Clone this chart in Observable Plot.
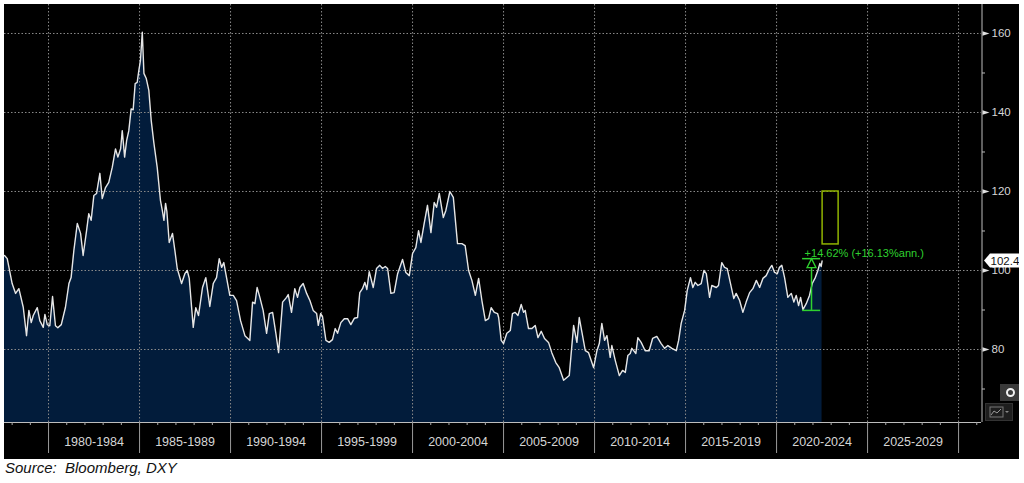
<!DOCTYPE html>
<html>
<head>
<meta charset="utf-8">
<script src="https://cdn.jsdelivr.net/npm/d3@7"></script>
<script src="https://cdn.jsdelivr.net/npm/@observablehq/plot@0.6"></script>
<style>
html, body { margin: 0; padding: 0; background: #fff; width: 1024px; height: 483px; overflow: hidden; }
#wrap { position: absolute; left: 4px; top: 4px; width: 1015px; height: 455px; background: #000; overflow: hidden; }
#caption { position: absolute; left: 5px; top: 459px; font: italic 15px "Liberation Sans", Arial, sans-serif; color: #111; white-space: pre; }
#btn1 { position: absolute; left: 1000px; top: 384px; width: 19px; height: 17px; background: #3a3a3a; }
#btn1 div { position: absolute; left: 6px; top: 4px; width: 5px; height: 5px; border: 2px solid #f2f2f2; border-radius: 50%; }
#btn2 { position: absolute; left: 985px; top: 403px; width: 28px; height: 18px; background: #1e1e1e; border: 1px solid #333; box-sizing: border-box; }
</style>
</head>
<body>
<div id="wrap"></div>
<div id="btn1"><div></div></div>
<div id="btn2"><svg width="26" height="16"><rect x="4" y="3" width="13" height="10" fill="none" stroke="#777" stroke-width="1"/><polyline points="5,11 8,7 11,9 15,5" fill="none" stroke="#999" stroke-width="1"/><path d="M19,7 L23,7 L21,9 Z" fill="#888"/></svg></div>
<div id="caption">Source:  Bloomberg, DXY</div>
<script>
// ---- Data ----
const years = [
  1977.58, 1977.73, 1978.00, 1978.19, 1978.37, 1978.61, 1978.79, 1978.92, 1979.05, 1979.16,
  1979.38, 1979.52, 1979.71, 1979.80, 1979.93, 1980.07, 1980.22, 1980.38, 1980.51, 1980.70,
  1980.93, 1981.12, 1981.24, 1981.39, 1981.58, 1981.76, 1981.90, 1982.09, 1982.21, 1982.34,
  1982.49, 1982.64, 1982.82, 1982.95, 1983.13, 1983.31, 1983.50, 1983.68, 1983.81, 1983.96,
  1984.05, 1984.18, 1984.29, 1984.41, 1984.54, 1984.65, 1984.76, 1984.87, 1984.96, 1985.05,
  1985.15, 1985.24, 1985.37, 1985.51, 1985.64, 1985.79, 1985.97, 1986.15, 1986.25, 1986.34,
  1986.43, 1986.50, 1986.63, 1986.81, 1986.94, 1987.07, 1987.31, 1987.49, 1987.62, 1987.73,
  1987.95, 1988.09, 1988.24, 1988.46, 1988.64, 1988.86, 1989.05, 1989.23, 1989.38, 1989.51,
  1989.63, 1989.78, 1989.96, 1990.15, 1990.33, 1990.55, 1990.79, 1991.06, 1991.21, 1991.34,
  1991.46, 1991.61, 1991.79, 1991.98, 1992.13, 1992.31, 1992.49, 1992.64, 1992.86, 1993.08,
  1993.17, 1993.35, 1993.53, 1993.68, 1993.81, 1993.99, 1994.18, 1994.36, 1994.54, 1994.73,
  1994.82, 1994.95, 1995.05, 1995.24, 1995.42, 1995.60, 1995.75, 1995.88, 1996.06, 1996.25,
  1996.43, 1996.61, 1996.80, 1996.98, 1997.10, 1997.25, 1997.38, 1997.49, 1997.62, 1997.84,
  1998.02, 1998.20, 1998.35, 1998.50, 1998.63, 1998.81, 1998.99, 1999.18, 1999.45, 1999.63,
  1999.82, 2000.00, 2000.18, 2000.33, 2000.46, 2000.64, 2000.82, 2001.01, 2001.19, 2001.32,
  2001.47, 2001.69, 2001.83, 2002.05, 2002.24, 2002.47, 2002.71, 2002.89, 2003.08, 2003.26,
  2003.45, 2003.63, 2003.81, 2004.00, 2004.18, 2004.32, 2004.49, 2004.67, 2004.73, 2004.87,
  2005.00, 2005.18, 2005.37, 2005.49, 2005.64, 2005.79, 2005.97, 2006.10, 2006.19, 2006.37,
  2006.56, 2006.74, 2006.89, 2007.07, 2007.25, 2007.47, 2007.65, 2007.87, 2008.06, 2008.30,
  2008.48, 2008.61, 2008.85, 2009.03, 2009.16, 2009.31, 2009.49, 2009.67, 2009.95, 2010.13,
  2010.26, 2010.40, 2010.55, 2010.68, 2010.86, 2010.95, 2011.14, 2011.36, 2011.54, 2011.69,
  2011.83, 2011.96, 2012.05, 2012.27, 2012.38, 2012.56, 2012.78, 2013.00, 2013.19, 2013.42,
  2013.66, 2013.85, 2014.03, 2014.25, 2014.49, 2014.62, 2014.76, 2014.95, 2015.09, 2015.27,
  2015.40, 2015.53, 2015.68, 2015.86, 2016.01, 2016.14, 2016.32, 2016.44, 2016.69, 2016.81,
  2016.99, 2017.14, 2017.29, 2017.47, 2017.65, 2017.78, 2017.97, 2018.15, 2018.33, 2018.52,
  2018.70, 2018.89, 2019.07, 2019.25, 2019.43, 2019.62, 2019.74, 2019.89, 2020.04, 2020.16,
  2020.29, 2020.44, 2020.62, 2020.81, 2020.95, 2021.08, 2021.21, 2021.32, 2021.45, 2021.63,
  2021.81, 2021.96, 2022.13, 2022.27, 2022.38, 2022.45, 2022.50
];
const values = [
  103.8, 103.0, 96.7, 94.2, 95.4, 90.7, 83.5, 89.9, 86.8, 88.6,
  90.6, 87.3, 85.6, 88.9, 86.3, 86.0, 93.4, 86.0, 85.5, 86.3,
  90.7, 96.7, 98.2, 105.0, 111.9, 109.4, 103.8, 110.1, 114.4, 112.7,
  119.0, 119.5, 124.6, 118.2, 121.0, 122.3, 126.1, 130.8, 128.7, 130.8,
  135.4, 128.7, 132.9, 135.4, 140.9, 140.7, 147.3, 147.6, 150.6, 153.2,
  160.3, 149.9, 148.6, 145.6, 138.0, 132.2, 126.1, 117.7, 115.2, 112.7,
  117.0, 115.0, 107.1, 109.4, 105.1, 100.5, 96.7, 99.2, 100.0, 98.0,
  85.6, 90.6, 88.6, 95.7, 98.2, 90.9, 96.7, 98.2, 103.0, 100.8,
  102.0, 98.2, 93.7, 93.7, 92.4, 87.3, 83.5, 82.3, 92.0, 91.6,
  95.7, 93.2, 89.9, 84.1, 89.1, 89.4, 84.1, 79.2, 92.0, 93.2,
  93.9, 89.4, 95.4, 93.2, 95.7, 96.7, 94.2, 92.4, 89.9, 89.1,
  86.1, 89.1, 88.4, 82.3, 81.8, 82.5, 85.3, 84.1, 86.8, 87.8,
  87.8, 86.3, 87.9, 88.1, 94.4, 95.4, 97.0, 95.2, 99.7, 95.7,
  100.5, 101.3, 100.5, 101.0, 100.5, 94.2, 94.4, 99.2, 102.8, 99.5,
  98.7, 104.3, 105.8, 110.1, 107.1, 111.9, 116.5, 109.6, 117.2, 116.0,
  119.5, 113.4, 115.2, 120.0, 118.5, 106.8, 106.8, 106.3, 100.0, 97.5,
  93.7, 98.0, 92.4, 87.3, 87.8, 90.6, 89.4, 89.1, 88.1, 82.3,
  81.5, 84.1, 84.8, 89.1, 89.4, 88.6, 91.4, 89.4, 89.9, 85.3,
  85.3, 86.1, 83.0, 84.6, 82.8, 81.8, 79.2, 76.7, 75.4, 72.2,
  72.9, 73.4, 86.1, 81.8, 88.1, 84.3, 79.7, 79.2, 75.4, 79.7,
  81.5, 86.6, 82.3, 83.5, 78.0, 81.0, 77.2, 73.4, 74.7, 74.2,
  78.5, 79.0, 80.3, 79.0, 83.0, 81.8, 79.7, 79.7, 82.8, 83.3,
  81.5, 80.3, 81.0, 80.3, 79.7, 82.3, 86.6, 89.9, 94.9, 98.2,
  95.7, 97.0, 96.2, 96.7, 100.0, 99.2, 93.2, 96.2, 95.7, 96.2,
  102.0, 100.8, 100.5, 96.7, 92.9, 94.2, 92.4, 89.4, 92.0, 94.4,
  95.4, 97.5, 95.7, 98.0, 98.7, 100.5, 101.3, 99.5, 99.2, 100.8,
  101.3, 98.2, 93.2, 94.2, 92.0, 93.7, 91.1, 93.2, 90.1, 91.6,
  93.7, 96.7, 98.2, 100.0, 101.8, 101.0, 102.4
];
const periodStarts = [1980, 1985, 1990, 1995, 2000, 2005, 2010, 2015, 2020, 2025];
const periodLabels = ["1980-1984", "1985-1989", "1990-1994", "1995-1999", "2000-2004",
                      "2005-2009", "2010-2014", "2015-2019", "2020-2024", "2025-2029"];
const periodBounds = [1980, 1985, 1990, 1995, 2000, 2005, 2010, 2015, 2020, 2025, 2030];
const yearTicks = d3.range(1978, 2032);
const yTicks = [80, 100, 120, 140, 160];
const yMinorTicks = [70, 90, 110, 130, 150];
const lastValue = 102.4;
const lastLabel = "102.4";
const changeLabel = "+14.62% (+16.13%ann.)";
const measureYears = [2021.43, 2021.92, 2022.42];   // left, centre, right of the bracket
const measureLevels = [89.9, 103.0];                 // low, high
const targetBox = [{x1: 2022.53, x2: 2023.41, y1: 106.6, y2: 120.0}];
const xDomain = [1977.58, 2031.26];
const yDomain = [61.52, 167.34];

const series = years.map((y, i) => ({year: y, value: values[i]}));

const W = 1015, H = 455;
const grey = "#d6d6d6";
const green = "#2fd12f";
const upTri = {draw(c) { c.moveTo(0, -4.5); c.lineTo(4.5, 4.5); c.lineTo(-4.5, 4.5); c.closePath(); }};
const rightTri = {draw(c) { c.moveTo(-3.5, -2.2); c.lineTo(3.5, 0); c.lineTo(-3.5, 2.2); c.closePath(); }};

const plot = Plot.plot({
  width: W,
  height: H,
  marginLeft: 0,
  marginTop: 0,
  marginRight: 38,
  marginBottom: 37,
  style: {background: "transparent", fontFamily: "'Liberation Sans', Arial, sans-serif"},
  x: {domain: xDomain, axis: null},
  y: {domain: yDomain, axis: null},
  marks: [
    Plot.areaY(series, {x: "year", y1: yDomain[0], y2: "value", fill: "#021c3b"}),
    Plot.ruleY(yTicks, {stroke: "#8a8a8a", strokeDasharray: "1.5,2"}),
    Plot.ruleX(periodBounds, {stroke: "#8a8a8a", strokeDasharray: "1.5,2"}),
    Plot.lineY(series, {x: "year", y: "value", stroke: "#e6e6e6", strokeWidth: 1.4}),
    Plot.ruleY([yDomain[0]], {stroke: "#bdbdbd"}),
    Plot.ruleX([xDomain[1]], {stroke: "#bdbdbd", dx: 0.5}),
    // x axis: yearly ticks, period separators, period labels
    Plot.axisX({ticks: yearTicks, tickSize: 3, tickFormat: () => "", stroke: "#aaa", label: null}),
    Plot.axisX({ticks: periodBounds, tickSize: 31, tickFormat: () => "", stroke: "#9a9a9a", label: null}),
    Plot.text(periodStarts, {x: d => d + 2.5, text: (d, i) => periodLabels[i], frameAnchor: "bottom", dy: 23, fill: grey, fontSize: 12.5}),
    // right y axis
    Plot.axisY({anchor: "right", ticks: yMinorTicks, tickSize: 3, tickFormat: () => "", stroke: "#bbb", label: null}),
    Plot.axisY({anchor: "right", ticks: yTicks, tickSize: 0, tickPadding: 10, fontSize: 11.5, fill: grey, label: null}),
    Plot.dot(yTicks, {y: d => d, frameAnchor: "right", dx: 4.5, r: 1, symbol: rightTri, fill: "#e0e0e0", stroke: "none"}),
    // measurement annotation
    Plot.ruleY(measureLevels, {x1: measureYears[0], x2: measureYears[2], stroke: green, strokeWidth: 1.5}),
    Plot.ruleX([measureYears[1]], {y1: measureLevels[0], y2: measureLevels[1], stroke: green, strokeWidth: 1.5}),
    Plot.dot([measureLevels[1]], {x: measureYears[1], y: d => d, dy: 4.5, r: 1, symbol: upTri, fill: "#000", stroke: green, strokeWidth: 1.3}),
    Plot.text([changeLabel], {x: measureYears[0], y: measureLevels[1], text: d => d, textAnchor: "start", dx: 2, dy: -5.5, fill: green, fontSize: 11}),
    Plot.rect(targetBox, {x1: "x1", x2: "x2", y1: "y1", y2: "y2", fill: "none", stroke: "#8fb300", strokeWidth: 1.5})
  ]
});

// last-value label attached to the right axis, positioned through the plot's scales
const sx = plot.scale("x"), sy = plot.scale("y");
const yl = sy.apply(lastValue);
const x0 = sx.apply(xDomain[1]) + 3;
const g = d3.select(plot).append("g").attr("text-anchor", "start");
g.append("path")
  .attr("d", `M${x0},${yl} L${x0 + 6},${yl - 7} L${x0 + 35},${yl - 7} L${x0 + 35},${yl + 7} L${x0 + 6},${yl + 7} Z`)
  .attr("fill", "#fff");
g.append("text")
  .attr("x", x0 + 6.5).attr("y", yl).attr("dy", "0.36em")
  .attr("text-anchor", "start")
  .attr("font-size", 11.5).attr("fill", "#111")
  .attr("font-family", "'Liberation Sans', Arial, sans-serif")
  .text(lastLabel);

document.getElementById("wrap").appendChild(plot);
</script>
</body>
</html>
